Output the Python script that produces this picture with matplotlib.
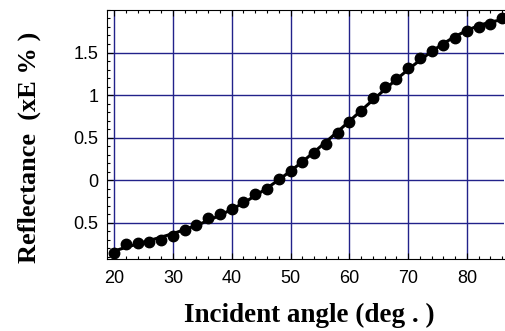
import numpy as np
from matplotlib import pyplot as plt
from matplotlib.ticker import MultipleLocator

# measured points (angle in deg, reflectance)
angle = [20, 22, 24, 26, 28, 30, 32, 34, 36, 38, 40, 42, 44, 46, 48, 50, 52,
         54, 56, 58, 60, 62, 64, 66, 68, 70, 72, 74, 76, 78, 80, 82, 84, 86]
refl = [-0.85, -0.745, -0.74, -0.72, -0.70, -0.655, -0.58, -0.53, -0.445, -0.40,
        -0.335, -0.25, -0.165, -0.10, 0.01, 0.11, 0.21, 0.315, 0.42, 0.55,
        0.68, 0.81, 0.96, 1.09, 1.19, 1.32, 1.43, 1.52, 1.59, 1.67, 1.75,
        1.80, 1.84, 1.91]

yticks = [-0.5, 0, 0.5, 1, 1.5]
ylabels = ['0.5', '0', '0.5', '1', '1.5']
xticks = [20, 30, 40, 50, 60, 70, 80]

fig = plt.figure(figsize=(5.05, 3.31), dpi=100)
ax = fig.add_axes([0.212, 0.2175, 0.786, 0.7525])

# smooth fit curve through the points
coef = np.polyfit(angle, refl, 5)
xf = np.linspace(20, 86, 200)
ax.plot(xf, np.polyval(coef, xf), color='black', lw=2.2, zorder=3)
ax.plot(angle, refl, 'o', color='black', ms=7.5, zorder=4)

ax.set_xlim(18.8, 86.3)
ax.set_ylim(-0.925, 2.0)
ax.set_xticks(xticks)
ax.set_yticks(yticks)
ax.set_yticklabels(ylabels)
ax.xaxis.set_minor_locator(MultipleLocator(2))
ax.yaxis.set_minor_locator(MultipleLocator(0.1))
ax.tick_params(which='both', direction='in', top=True, right=False,
               labelsize=13, width=0.8, colors='black')
ax.tick_params(which='major', length=4)
ax.tick_params(which='minor', length=2.5)
ax.tick_params(axis='x', which='major', pad=8)
ax.tick_params(axis='y', which='major', pad=6)
for lab in ax.get_xticklabels() + ax.get_yticklabels():
    lab.set_fontfamily('Liberation Sans')
ax.spines['right'].set_visible(False)

ax.grid(True, which='major', color='#22228a', lw=1.0)
ax.set_axisbelow(True)

fig.text(0.612, 0.048, 'Incident angle (deg . )', ha='center', va='center',
         fontsize=19.5, fontweight='bold', family='Liberation Serif')
fig.text(0.058, 0.555, 'Reflectance  (xE % )', ha='center', va='center',
         rotation=90, fontsize=19, fontweight='bold', family='Liberation Serif')

plt.savefig('out.png', dpi=100)
